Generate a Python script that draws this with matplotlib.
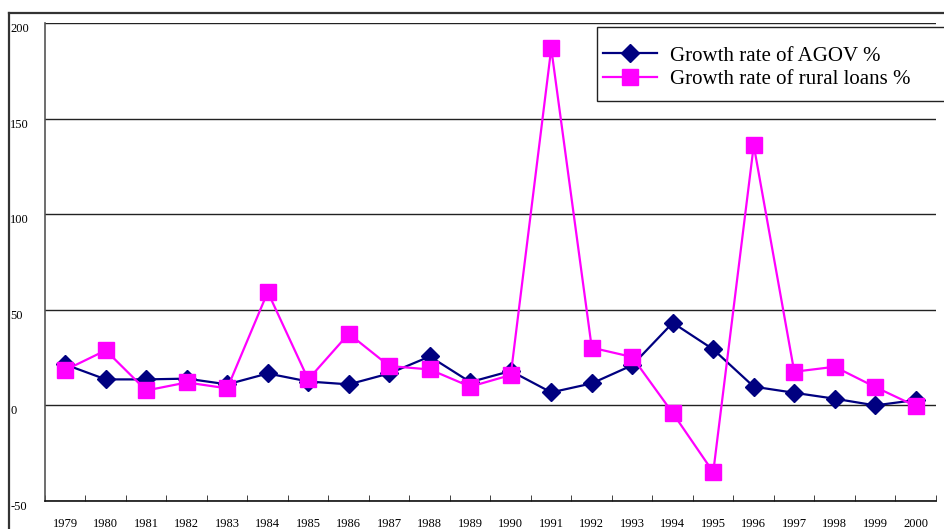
import matplotlib
matplotlib.use("Agg")
import matplotlib.pyplot as plt
from matplotlib.lines import Line2D
from matplotlib.patches import Rectangle
import numpy as np

years = ["1979", "1980", "1981", "1982", "1983", "1984", "1985", "1986", "1987", "1988", "1989",
         "1990", "1991", "1992", "1993", "1994", "1995", "1996", "1997", "1998", "1999", "2000"]
agov_growth = [21.4, 13.6, 13.6, 14.0, 11.0, 16.7, 12.5, 11.0, 16.7, 25.6, 12.2,
               18.0, 6.8, 11.5, 21.0, 43.2, 29.3, 9.8, 6.6, 3.5, 0.0, 2.8]
loan_growth = [18.5, 28.8, 7.8, 12.0, 8.9, 59.3, 13.6, 37.5, 20.6, 18.8, 9.8,
               15.9, 186.7, 30.2, 25.3, -4.0, -34.9, 136.0, 17.6, 20.2, 9.6, -0.4]
y_ticks = [-50, 0, 50, 100, 150, 200]

NAVY = "#000080"
MAGENTA = "#FF00FF"
serif = ["Liberation Serif", "DejaVu Serif"]

W, H = 945, 529
fig = plt.figure(figsize=(W / 100, H / 100), dpi=100)

# outer chart frame (top and left edges)
fig.add_artist(Line2D([9 / W, 9 / W], [0, 1 - 13 / H], transform=fig.transFigure,
                      color="#333333", lw=1.6))
fig.add_artist(Line2D([9 / W, 1], [1 - 13 / H, 1 - 13 / H], transform=fig.transFigure,
                      color="#333333", lw=1.6))

ax = fig.add_axes([45 / W, 1 - 501 / H, (936 - 45) / W, (501 - 23) / H])
x = np.arange(len(years))

ax.plot(x, agov_growth, color=NAVY, lw=1.6, marker="D", markersize=9.5,
        markerfacecolor=NAVY, markeredgecolor=NAVY, label="Growth rate of AGOV %", zorder=3)
ax.plot(x, loan_growth, color=MAGENTA, lw=1.6, marker="s", markersize=12,
        markerfacecolor=MAGENTA, markeredgecolor=MAGENTA, label="Growth rate of rural loans %", zorder=4)

ax.set_xlim(-0.5, len(years) - 0.5)
ax.set_ylim(-50, 200)
ax.set_yticks(y_ticks)
ax.set_yticklabels([str(v) for v in y_ticks], family=serif, fontsize=9, ha="left")
ax.tick_params(axis="y", length=0, pad=25)
for lbl in ax.get_yticklabels():
    lbl.set_verticalalignment("top")
ax.yaxis.grid(True, color="#222222", lw=1.0)

ax.set_xticks(x)
ax.set_xticklabels(years, family=serif, fontsize=9)
ax.set_xticks(np.arange(-0.5, len(years), 1.0), minor=True)
ax.tick_params(axis="x", which="major", length=0, pad=12.5)
ax.tick_params(axis="x", which="minor", length=4, direction="in", color="#222222")

for side in ("top", "right"):
    ax.spines[side].set_visible(False)
ax.spines["left"].set_color("#555555")
ax.spines["bottom"].set_color("#111111")
ax.spines["left"].set_linewidth(1.2)
ax.spines["bottom"].set_linewidth(1.2)
ax.set_axisbelow(True)

# legend box
fig.add_artist(Rectangle((597 / W, 1 - 101 / H), (960 - 597) / W, (101 - 27) / H,
                         transform=fig.transFigure, facecolor="white",
                         edgecolor="#222222", lw=1.0, zorder=5))
leg = fig.legend(loc="upper left", bbox_to_anchor=(603 / W, 1 - 46 / H),
                 prop={"family": serif, "size": 15}, frameon=False,
                 handlelength=2.6, handletextpad=0.6,
                 labelspacing=0.2, borderpad=0, borderaxespad=0)
leg.set_zorder(6)

fig.savefig("out.png", dpi=100)
